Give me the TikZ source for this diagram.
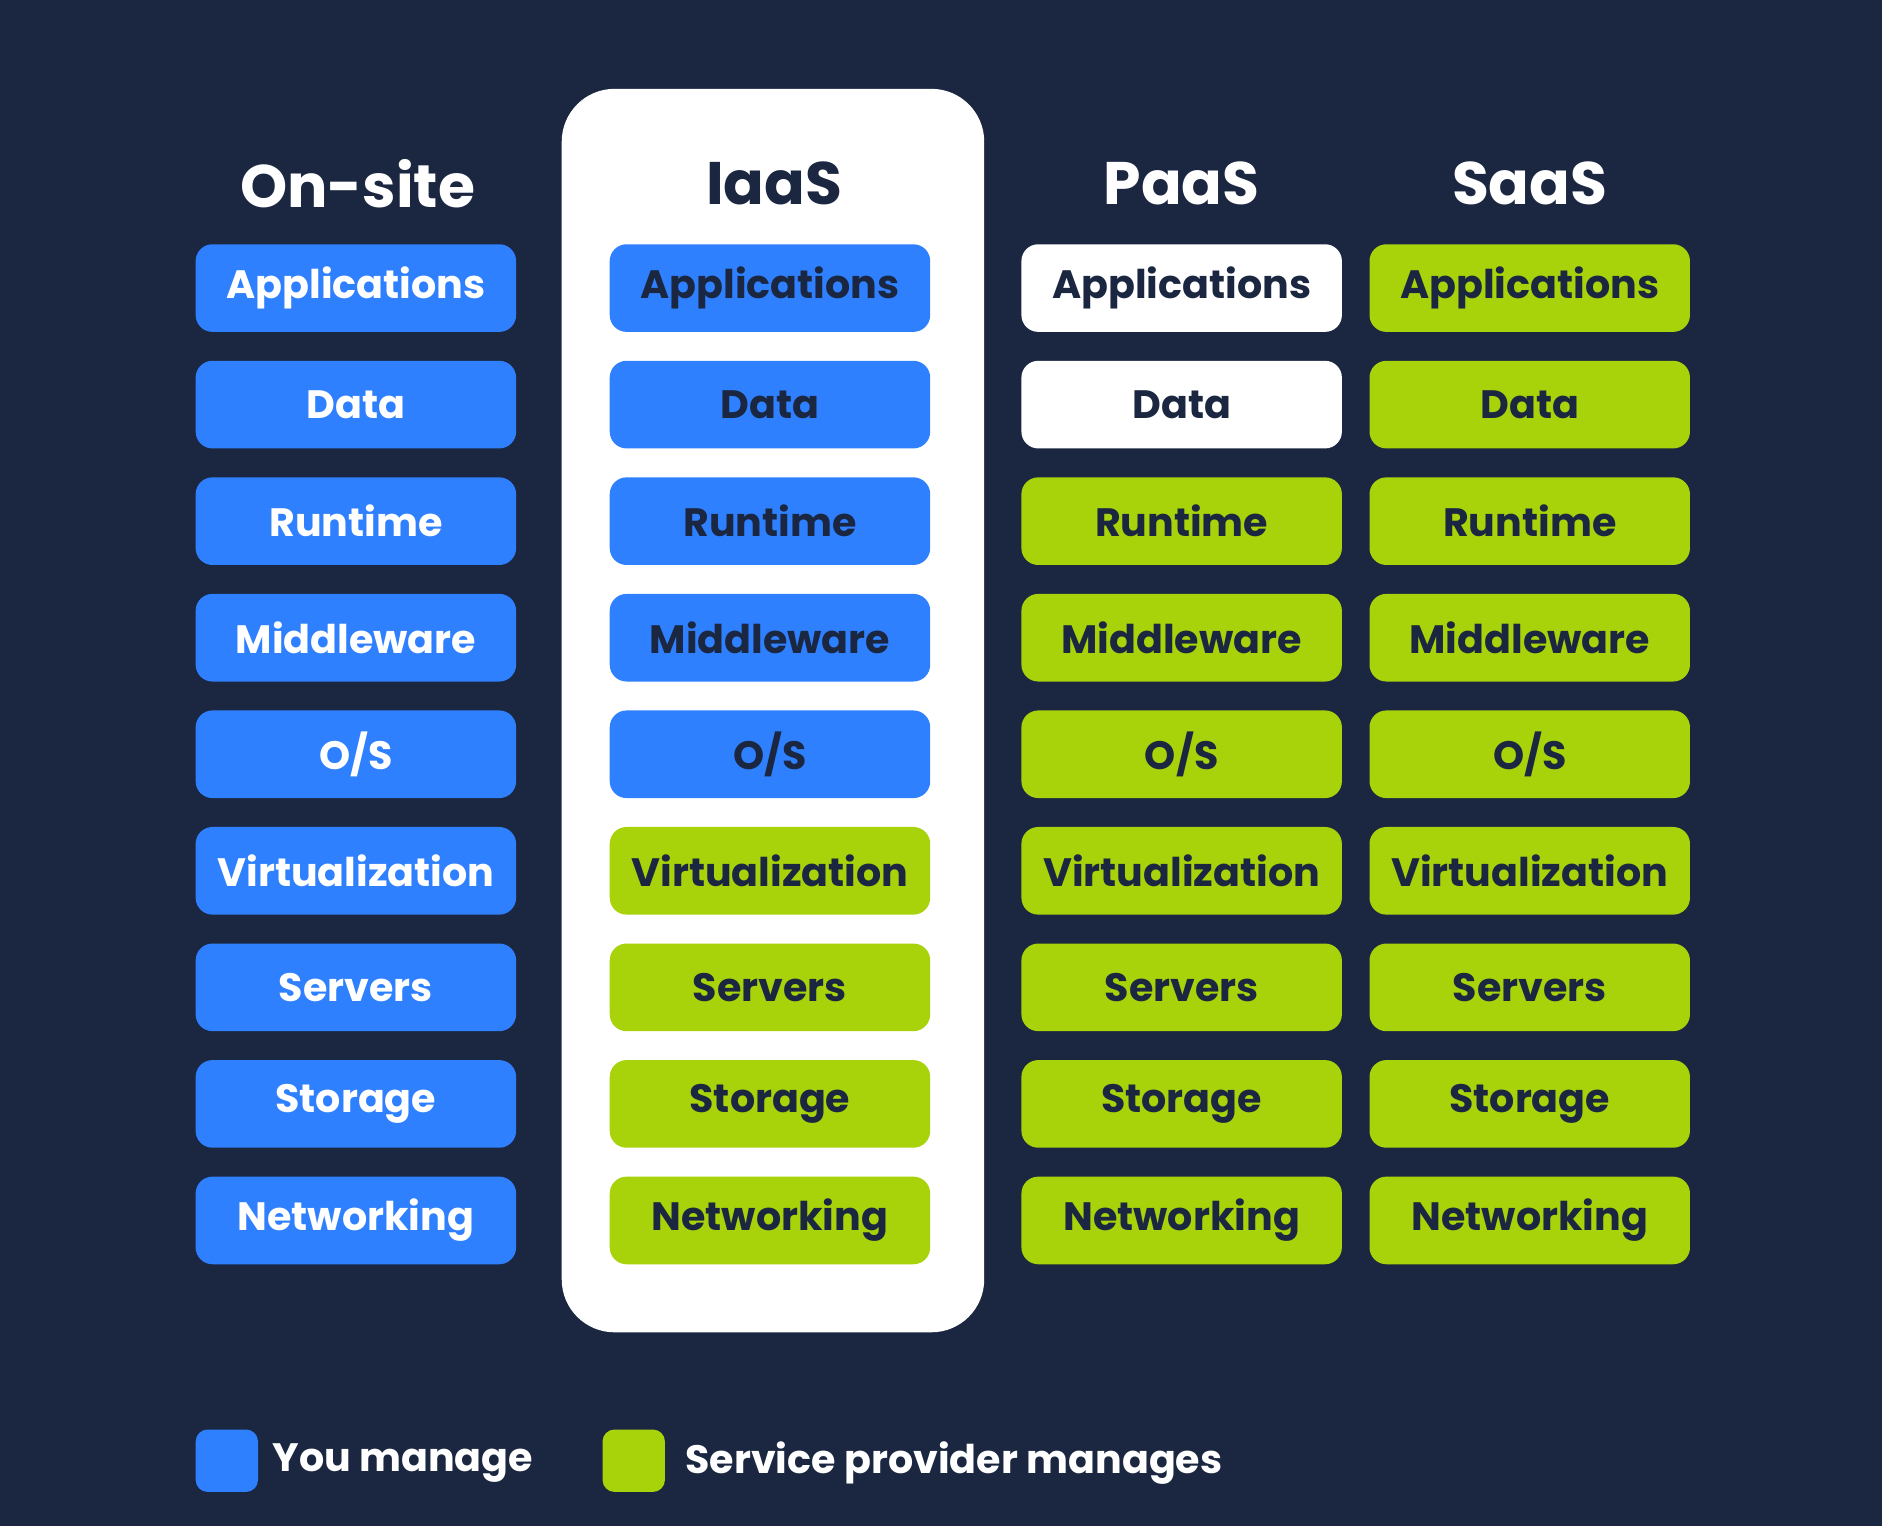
\documentclass[tikz,border=0pt]{standalone}
\usepackage{fontspec}
\setmainfont{Poppins}
\definecolor{bg}{HTML}{1B2741}
\definecolor{bl}{HTML}{2F80FF}
\definecolor{gr}{HTML}{A8D20A}
\begin{document}
\begin{tikzpicture}[x=0.5pt,y=-0.5pt,
  cell/.style={rounded corners=14pt*0.5,minimum width=267*0.5pt,minimum height=73*0.5pt,inner sep=0pt,font=\fontsize{16.5}{18}\selectfont\bfseries},
  ttl/.style={font=\fontsize{25}{28}\selectfont\bfseries}]
\fill[bg] (0,0) rectangle (1568,1271);
\useasboundingbox (0,0) rectangle (1568,1271);
\fill[white,rounded corners=22pt] (468,74) rectangle (820,1110);
\node[ttl,text=white] (t1) at (298,153) {On-site};
\node[ttl,text=bg] (t2) at (645,153) {IaaS};
\node[ttl,text=white] (t3) at (984.5,153) {PaaS};
\node[ttl,text=white] (t4) at (1274.5,153) {SaaS};
\def\labels{Applications,Data,Runtime,Middleware,O/S,Virtualization,Servers,Storage,Networking}
\foreach \l [count=\i] in \labels {
  \pgfmathsetmacro{\yy}{240+(\i-1)*97.1}
  \node[cell,fill=bl,text=white] (a\i) at (296.5,\yy) {\l};
  \ifnum\i<6
    \node[cell,fill=bl,text=bg] (b\i) at (641.5,\yy) {\l};
  \else
    \node[cell,fill=gr,text=bg] (b\i) at (641.5,\yy) {\l};
  \fi
  \ifnum\i<3
    \node[cell,fill=white,text=bg] (c\i) at (984.5,\yy) {\l};
  \else
    \node[cell,fill=gr,text=bg] (c\i) at (984.5,\yy) {\l};
  \fi
  \node[cell,fill=gr,text=bg] (d\i) at (1274.5,\yy) {\l};
}
\node[fill=bl,rounded corners=5pt,minimum size=26pt,inner sep=0pt] (l1) at (189,1217) {};
\node[anchor=west,text=white,font=\fontsize{16.5}{18}\selectfont\bfseries] (lt1) at (220,1219) {You manage};
\node[fill=gr,rounded corners=5pt,minimum size=26pt,inner sep=0pt] (l2) at (528,1217) {};
\node[anchor=west,text=white,font=\fontsize{16.5}{18}\selectfont\bfseries] (lt2) at (564,1219) {Service provider manages};
\end{tikzpicture}
\end{document}
